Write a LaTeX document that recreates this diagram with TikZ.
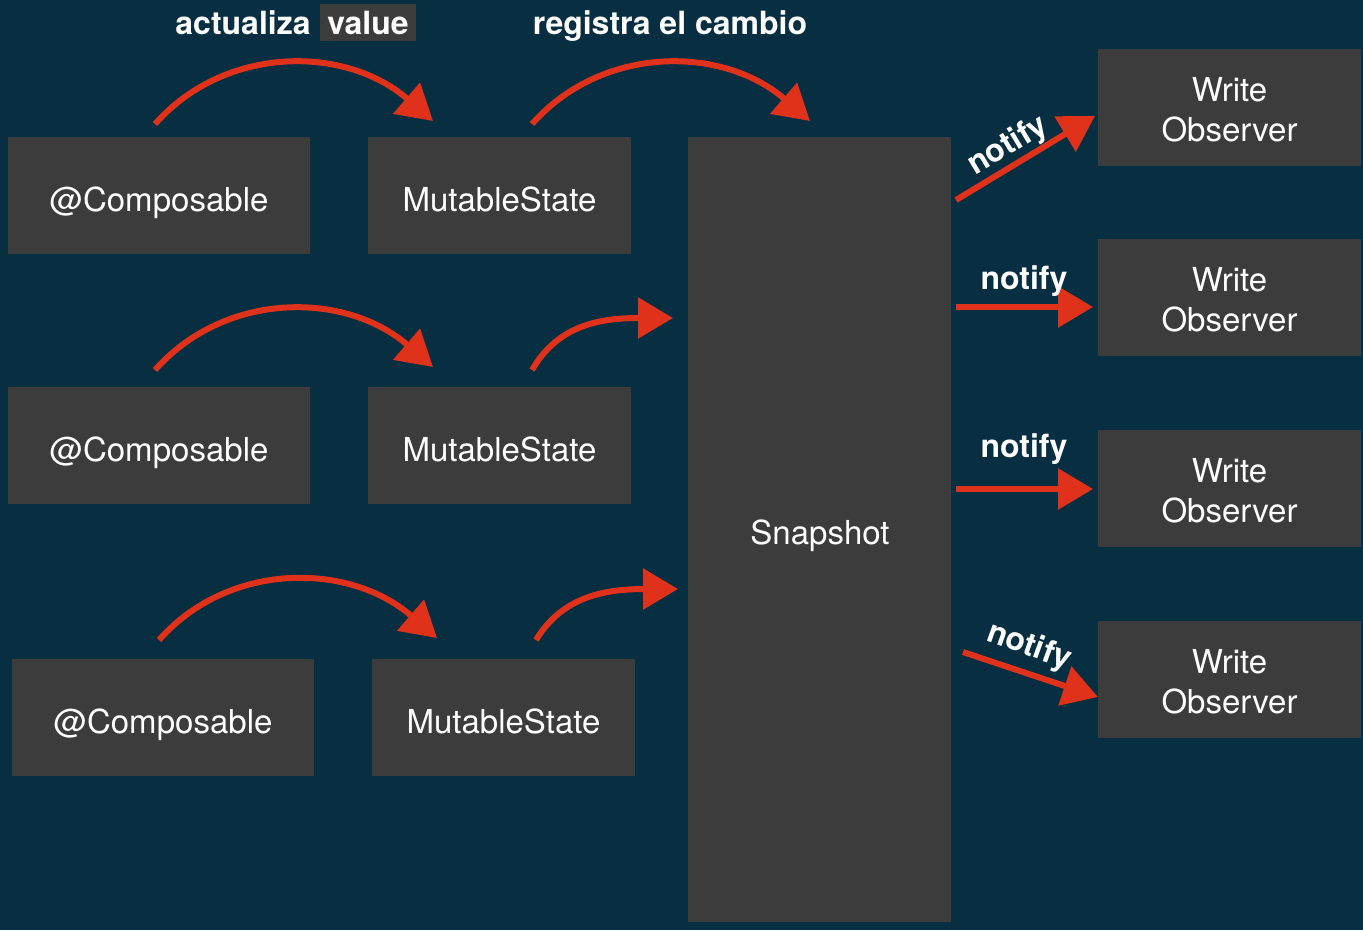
\documentclass[tikz,border=0pt]{standalone}
\usepackage{fontspec}
\setmainfont{TeX Gyre Heros}
\usetikzlibrary{arrows.meta}
\definecolor{bgnavy}{HTML}{082E41}
\definecolor{boxgray}{HTML}{3C3C3C}
\definecolor{flowred}{HTML}{E0321A}
\begin{document}
\begin{tikzpicture}[x=1pt,y=-1pt,
  box/.style={draw=none,fill=boxgray,text=white,inner sep=0pt,
    font=\fontsize{33}{40}\selectfont,align=center},
  onebox/.style={box,text height=31pt,text depth=0pt},
  boxtext/.style={text=white,font=\fontsize{33}{40}\selectfont,inner sep=0pt,anchor=base},
  flow/.style={draw=flowred,line width=6pt,
    -{Triangle[length=35pt,width=40pt]},fill=none},
  lbl/.style={text=white,font=\bfseries\fontsize{32}{38}\selectfont,inner sep=0pt}]
  % canvas
  \fill[bgnavy] (0,0) rectangle (1363,930);
  \useasboundingbox (0,0) rectangle (1363,930);

  % composables and states
  \node[onebox,minimum width=302pt,minimum height=117pt] (c1) at (159,195.5) {@Composable};
  \node[onebox,minimum width=302pt,minimum height=117pt] (c2) at (159,445.5) {@Composable};
  \node[onebox,minimum width=302pt,minimum height=117pt] (c3) at (163,717.5) {@Composable};
  \node[onebox,minimum width=263pt,minimum height=117pt] (m1) at (499.5,195.5) {MutableState};
  \node[onebox,minimum width=263pt,minimum height=117pt] (m2) at (499.5,445.5) {MutableState};
  \node[onebox,minimum width=263pt,minimum height=117pt] (m3) at (503.5,717.5) {MutableState};

  % snapshot
  \node[box,minimum width=263pt,minimum height=785pt] (snap) at (819.5,529.5) {};
  \node[boxtext] (snaplbl) at (820,544) {Snapshot};

  % observers (two-line labels placed by baseline)
  \node[box,minimum width=263pt,minimum height=117pt] (o1) at (1229.5,107.5) {};
  \node[box,minimum width=263pt,minimum height=117pt] (o2) at (1229.5,297.5) {};
  \node[box,minimum width=263pt,minimum height=117pt] (o3) at (1229.5,488.5) {};
  \node[box,minimum width=263pt,minimum height=117pt] (o4) at (1229.5,679.5) {};
  \foreach \o in {o1,o2,o3,o4}{
    \node[boxtext] (\o w) at ([yshift=6.5pt]\o.center) {Write};
    \node[boxtext] (\o b) at ([yshift=-33.5pt]\o.center) {Observer};
  }

  % headings
  \node[lbl,anchor=base] (act) at (243,34) {actualiza};
  \fill[boxgray] (320,4) rectangle (416,41);
  \node[lbl,anchor=base] (val) at (368,34) {value};
  \node[lbl,anchor=base] (reg) at (670,34) {registra el cambio};

  % connector end points
  \coordinate (a1s) at (155,124);  \coordinate (a1e) at (433,121);
  \coordinate (b1s) at (532,124);  \coordinate (b1e) at (810,121);
  \coordinate (a2s) at (155,370);  \coordinate (a2e) at (433,367);
  \coordinate (b2s) at (532,370);  \coordinate (b2e) at (673,318);
  \coordinate (a3s) at (159,640);  \coordinate (a3e) at (437,638);
  \coordinate (b3s) at (536,640);  \coordinate (b3e) at (678,589);
  \coordinate (n1s) at (956,200);  \coordinate (n1e) at (1095,116);
  \coordinate (n2s) at (956,307);  \coordinate (n2e) at (1093,307);
  \coordinate (n3s) at (956,489);  \coordinate (n3e) at (1093,489);
  \coordinate (n4s) at (963,652);  \coordinate (n4e) at (1098,697);

  % update arcs
  \draw[flow] (a1s) .. controls +(70,-79) and +(-88,-76) .. (a1e);
  \draw[flow] (b1s) .. controls +(70,-79) and +(-88,-76) .. (b1e);
  \draw[flow] (a2s) .. controls +(70,-79) and +(-88,-76) .. (a2e);
  \draw[flow] (a3s) .. controls +(70,-79) and +(-88,-76) .. (a3e);
  \draw[flow] (b2s) .. controls +(26,-45) and +(-73,0) .. (b2e);
  \draw[flow] (b3s) .. controls +(26,-43) and +(-74,0) .. (b3e);

  % notifications
  \draw[flow] (n1s) -- (n1e);
  \draw[flow] (n2s) -- (n2e);
  \draw[flow] (n3s) -- (n3e);
  \draw[flow] (n4s) -- (n4e);
  \node[lbl,rotate=31] (t1) at (1008,146) {notify};
  \node[lbl] (t2) at (1024,281) {notify};
  \node[lbl] (t3) at (1024,449) {notify};
  \node[lbl,rotate=-20] (t4) at (1029,647) {notify};
\end{tikzpicture}
\end{document}
